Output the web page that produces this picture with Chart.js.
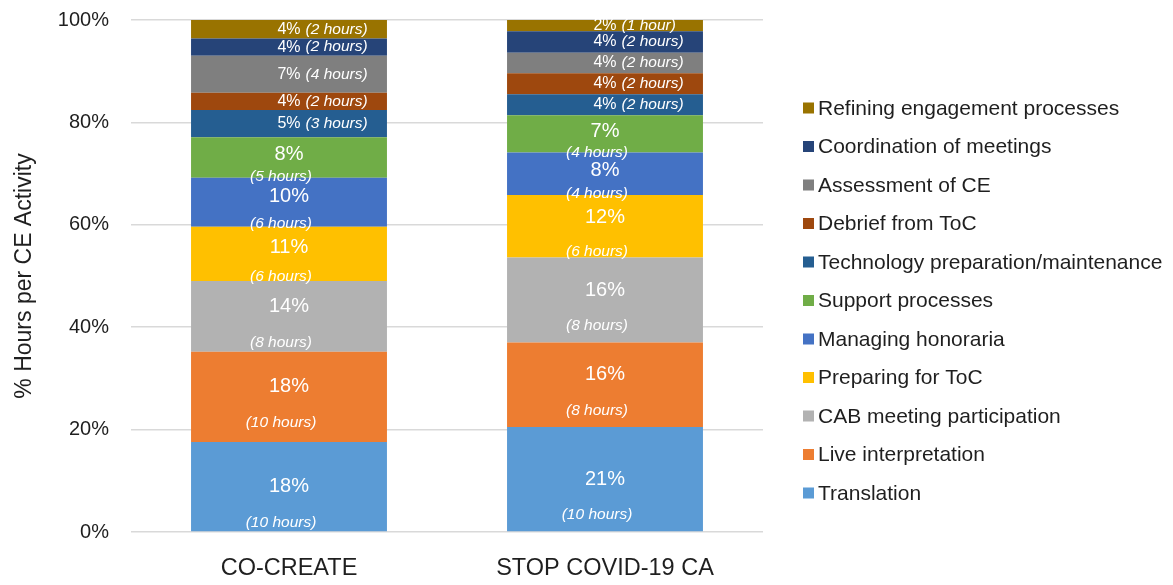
<!DOCTYPE html>
<html>
<head>
<meta charset="utf-8">
<script src="https://cdn.jsdelivr.net/npm/chart.js@4.4.1/dist/chart.umd.min.js"></script>
<style>
    body { margin: 0; background: #fff; }
</style>
</head>
<body>
<canvas id="chart" width="1173" height="585"></canvas>
<script>
const categories = ["CO-CREATE", "STOP COVID-19 CA"];
const activities = [
    "Translation",
    "Live interpretation",
    "CAB meeting participation",
    "Preparing for ToC",
    "Managing honoraria",
    "Support processes",
    "Technology preparation/maintenance",
    "Debrief from ToC",
    "Assessment of CE",
    "Coordination of meetings",
    "Refining engagement processes",
];
// share of hours (bar heights)
const coCreate = [17.6, 17.6, 13.8, 10.6, 9.6, 7.9, 5.3, 3.4, 7.2, 3.4, 3.6];
const stopCovid = [20.5, 16.5, 16.6, 12.2, 8.3, 7.3, 4.1, 4.1, 4.0, 4.2, 2.2];
// printed labels
const coCreatePct = [18, 18, 14, 11, 10, 8, 5, 4, 7, 4, 4];
const stopCovidPct = [21, 16, 16, 12, 8, 7, 4, 4, 4, 4, 2];
const coCreateHours = [10, 10, 8, 6, 6, 5, 3, 2, 4, 2, 2];
const stopCovidHours = [10, 8, 8, 6, 4, 4, 2, 2, 2, 2, 1];
const yTicks = [0, 20, 40, 60, 80, 100];

const colors = [
    "#5B9BD5",
    "#ED7D31",
    "#B2B2B2",
    "#FFC000",
    "#4472C4",
    "#70AD47",
    "#255E91",
    "#9E480E",
    "#7F7F7F",
    "#264478",
    "#997300",
];

const FONT = "'Liberation Sans', Arial, sans-serif";
const pctByCategory = [coCreatePct, stopCovidPct];
const hoursByCategory = [coCreateHours, stopCovidHours];
const inlineFrom = 6; // top five activities get "4% (2 hours)" on one line

function hoursText(h) {
    return `(${h} hour${h === 1 ? "" : "s"})`;
}

const segmentLabels = {
    id: "segmentLabels",
    afterDatasetsDraw(chart) {
        const ctx = chart.ctx;
        ctx.save();
        ctx.fillStyle = "#fff";
        ctx.textBaseline = "middle";
        chart.data.datasets.forEach((ds, i) => {
            chart.getDatasetMeta(i).data.forEach((bar, j) => {
                const pct = `${pctByCategory[j][i]}%`;
                const hrs = hoursText(hoursByCategory[j][i]);
                const top = Math.min(bar.y, bar.base);
                const h = Math.abs(bar.base - bar.y);
                const cx = bar.x;
                const cy = top + h / 2;
                if (i >= inlineFrom) {
                    ctx.font = `16px ${FONT}`;
                    ctx.textAlign = "center";
                    ctx.fillText(pct, cx, cy);
                    const w = ctx.measureText(pct).width;
                    ctx.font = `italic 15.5px ${FONT}`;
                    ctx.textAlign = "left";
                    ctx.fillText(hrs, cx + w / 2 + 5, cy);
                } else {
                    // bottom labels sit lower in the bar
                    const shift = i === 0 ? 18 : 8;
                    const gap = Math.min(36, h * 0.55);
                    ctx.font = `20px ${FONT}`;
                    ctx.textAlign = "center";
                    ctx.fillText(pct, cx, cy + shift - gap / 2);
                    ctx.font = `italic 15.5px ${FONT}`;
                    ctx.fillText(hrs, cx - 8, cy + shift + gap / 2);
                }
            });
        });
        ctx.restore();
    },
};

const sideLegend = {
    id: "sideLegend",
    afterDraw(chart) {
        const ctx = chart.ctx;
        const items = chart.data.datasets.slice().reverse();
        const step = 38.5;
        const x = chart.chartArea.right + 40;
        let y = chart.height / 2 + 8 - ((items.length - 1) * step) / 2;
        ctx.save();
        ctx.font = `21px ${FONT}`;
        ctx.textBaseline = "middle";
        ctx.textAlign = "left";
        items.forEach((ds) => {
            ctx.fillStyle = ds.backgroundColor;
            ctx.fillRect(x, y - 5.5, 11, 11);
            ctx.fillStyle = "#1f1f1f";
            ctx.fillText(ds.label, x + 15, y + 1);
            y += step;
        });
        ctx.restore();
    },
};

Chart.defaults.font.family = FONT;
Chart.defaults.color = "#1f1f1f";

new Chart(document.querySelector("#chart"), {
    type: "bar",
    data: {
        labels: categories,
        datasets: activities.map((name, i) => ({
            label: name,
            data: [coCreate[i], stopCovid[i]],
            backgroundColor: colors[i],
            borderWidth: 0,
            barPercentage: 0.62,
            categoryPercentage: 1,
        })),
    },
    options: {
        responsive: false,
        animation: false,
        layout: {
            padding: { top: 20, right: 410, bottom: 0, left: 0 },
        },
        plugins: {
            legend: { display: false },
            tooltip: { enabled: false },
        },
        scales: {
            x: {
                stacked: true,
                grid: { display: false },
                border: { display: false },
                ticks: { font: { size: 23.5 }, padding: 14 },
                afterFit: (axis) => {
                    axis.height = 53;
                },
            },
            y: {
                stacked: true,
                min: yTicks[0],
                max: yTicks[yTicks.length - 1],
                afterBuildTicks: (axis) => {
                    axis.ticks = yTicks.map((v) => ({ value: v }));
                },
                ticks: {
                    padding: 22,
                    font: { size: 20 },
                    callback: (v) => `${v}%`,
                },
                grid: { color: "#d9d9d9", lineWidth: 1.5, drawTicks: false },
                border: { display: false },
                title: {
                    display: true,
                    text: "% Hours per CE Activity",
                    font: { size: 23 },
                    padding: { top: 11, bottom: 0 },
                },
                afterFit: (axis) => {
                    axis.width = 131;
                    axis.paddingTop = 0;
                    axis.paddingBottom = 0;
                },
            },
        },
    },
    plugins: [segmentLabels, sideLegend],
});
</script>
</body>
</html>
